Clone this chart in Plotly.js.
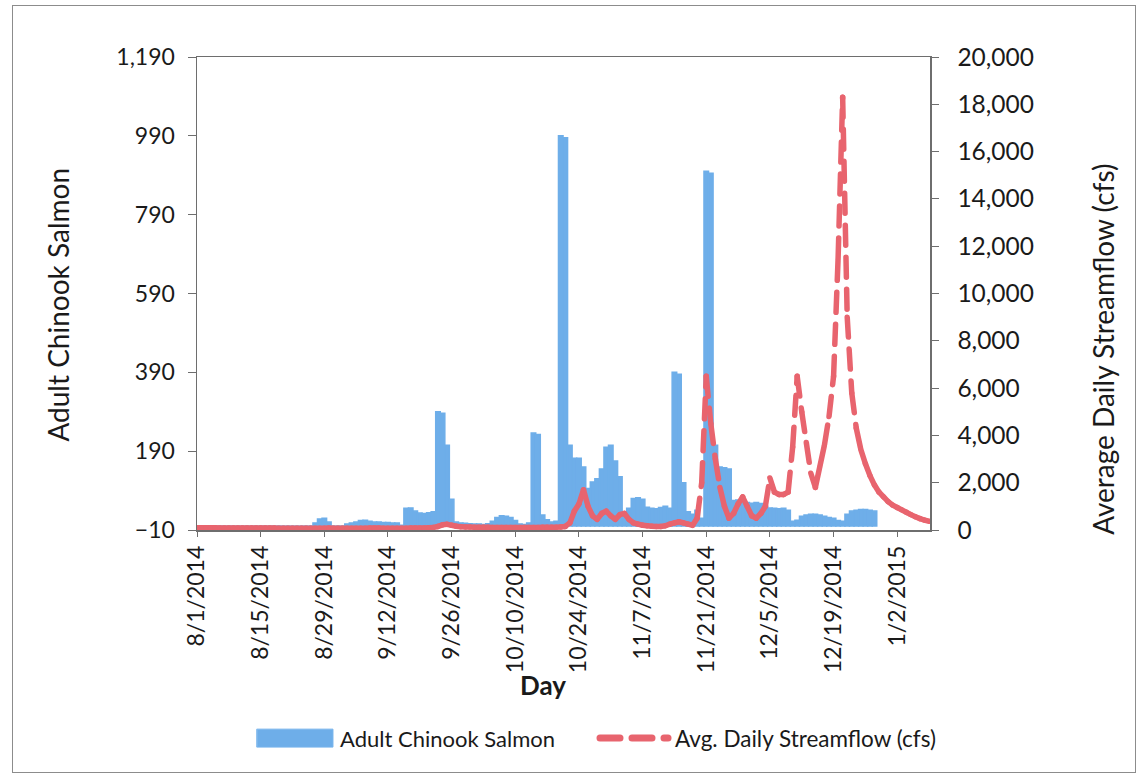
<!DOCTYPE html>
<html>
<head>
<meta charset="utf-8">
<script src="https://cdn.plot.ly/plotly-3.0.1.min.js"></script>
<style>
  html, body { margin: 0; padding: 0; background: #fff; }
  #frame { position: absolute; left: 12px; top: 5px; width: 1122px; height: 766px; border: 1px solid #8c8c8c; }
  #chart { width: 1122px; height: 766px; }
  /* round line ends, like the dashes of the streamflow series */
  #chart .js-line, #chart .shapelayer path { stroke-linecap: round; }
</style>
</head>
<body>
<div id="frame"><div id="chart"></div></div>
<script>
// First day of the record; one value per day after it.
const firstDay = '2014-08-01';

// Daily count of adult Chinook salmon (left axis), 8/1/2014 - 12/28/2014.
const salmon = [
  0, 0, 0, 0, 0, 0, 0, 0, 0, 0, 0, 0, 0, 0, 0, 0, 0, 0, 0, 0, 0, 0, 0, 0, 0, 0,
  8, 18, 20, 10, 0, 0, 0, 5,
  8, 10, 14, 15, 12, 10, 10, 9, 9, 8, 8, 2,
  45, 46, 38, 33, 32, 34, 36, 290, 286, 205, 68,
  10, 8, 7, 6, 5, 5, 4, 6, 12, 22, 26, 25, 22, 14, 5, 4, 8,
  236, 232, 28, 16, 10, 12,
  990, 985, 205, 172, 172, 150, 95, 112, 120, 145, 200, 205, 165, 125, 30, 45,
  70, 72, 68, 48, 45, 44, 47, 50, 45, 390, 385, 110, 36, 30, 40, 20,
  900, 895, 205, 150, 148, 145,
  65, 66, 62, 60, 58, 60, 57, 50, 46, 45, 44, 45, 40, 12, 15,
  25, 28, 30, 30, 28, 25, 22, 20, 14, 12,
  30, 38, 40, 42, 42, 40, 38
];

// Average daily streamflow in cfs (right axis), 8/1/2014 - 1/9/2015.
const streamflow = [
  95, 93, 92, 90, 90, 88, 88, 86, 85, 85, 84, 83, 82, 82, 81, 80, 80, 80, 79, 78, 78, 77, 77, 76, 76, 75,
  76, 76, 78, 80, 78, 77, 76, 76, 75, 75, 76, 78, 80, 82, 80, 78, 77, 76, 76, 75, 78, 80, 82, 85, 88, 95, 110,
  150, 220, 240, 200, 160, 140, 130, 125,
  120, 118, 115, 112, 110, 110, 108, 106, 105, 105, 104, 104, 103, 105, 110, 112, 115, 118, 120,
  130, 150, 300, 800, 1100, 1700, 1000, 600, 450, 700, 800, 600, 450, 650, 700, 450,
  300, 250, 200, 180, 160, 150, 150, 180, 250, 300, 350, 300, 250, 200, 500, 2000, 6500,
  4500, 3000, 1800, 1000, 500, 700, 1100, 1400, 1000, 600, 500, 700, 1000, 2200, 1600, 1500, 1500, 1600,
  3500, 6500, 5000, 3700, 2400, 1800, 2700, 3600, 4800, 6500, 11500, 18300, 9000, 5800, 4300, 3400,
  2800, 2300, 1900, 1600, 1400, 1200, 1050, 950, 850, 750, 650, 560, 480, 420, 370
];

// Series names shown in the legend
const salmonName = 'Adult Chinook Salmon';
const flowName = 'Avg. Daily Streamflow (cfs)';

// Axis settings
const salmonTicks = { min: -10, max: 1190, step: 200 };
const flowTicks = { min: 0, max: 20000, step: 2000 };
const dateTickDays = 14;
const lastAxisDay = '2015-01-09 05:00';

const DAY_MS = 86400000;
const t0 = Date.parse(firstDay + 'T00:00:00Z');
function dayLabel(i) {
  return new Date(t0 + i * DAY_MS).toISOString().slice(0, 10);
}
const salmonDays = salmon.map((_, i) => dayLabel(i));
const flowDays = streamflow.map((_, i) => dayLabel(i));

// The streamflow line is drawn one day-to-day segment at a time so the dash
// pattern restarts on each segment.
const segX = [], segY = [];
for (let i = 0; i < streamflow.length - 1; i++) {
  segX.push(flowDays[i], flowDays[i + 1], null);
  segY.push(streamflow[i], streamflow[i + 1], null);
}

const FONT = 'Lato, "Open Sans", sans-serif';
const INK = '#1a1a1a';
const AXIS = '#6e6e6e';
const BAR_BLUE = 'rgb(110,174,233)';
const FLOW_RED = 'rgb(232,100,110)';
const FLOW_DASH = '20px,12px';

const traces = [
  {
    type: 'bar',
    name: salmonName,
    x: salmonDays,
    y: salmon,
    yaxis: 'y',
    marker: { color: BAR_BLUE, line: { color: BAR_BLUE, width: 1.5 } },
    hoverinfo: 'x+y'
  },
  {
    type: 'scatter',
    mode: 'lines',
    name: flowName,
    x: segX,
    y: segY,
    yaxis: 'y2',
    connectgaps: false,
    line: { color: FLOW_RED, width: 5.5, dash: FLOW_DASH },
    hoverinfo: 'x+y'
  }
];

// Legend row under the chart (paper coordinates)
const legendY = -0.44;
const legendShapes = [
  {
    type: 'rect', xref: 'paper', yref: 'paper',
    x0: 0.082, x1: 0.1855, y0: legendY - 0.019, y1: legendY + 0.019,
    fillcolor: BAR_BLUE, line: { color: 'rgb(120,180,236)', width: 1 }
  },
  {
    type: 'line', xref: 'paper', yref: 'paper',
    x0: 0.5498, x1: 0.6426, y0: legendY, y1: legendY,
    line: { color: FLOW_RED, width: 7, dash: FLOW_DASH }
  }
];
const legendLabels = [
  {
    text: salmonName, xref: 'paper', yref: 'paper',
    x: 0.1924, y: legendY, xanchor: 'left', yanchor: 'middle', showarrow: false,
    font: { family: FONT, size: 22, color: INK }
  },
  {
    text: flowName, xref: 'paper', yref: 'paper',
    x: 0.6494, y: legendY, xanchor: 'left', yanchor: 'middle', showarrow: false,
    font: { family: FONT, size: 22.5, color: INK }
  }
];

const layout = {
  width: 1122,
  height: 766,
  margin: { l: 184, r: 205, t: 51, b: 242 },
  paper_bgcolor: '#fff',
  plot_bgcolor: '#fff',
  font: { family: FONT, color: INK, size: 22 },
  bargap: 0,
  showlegend: false,
  xaxis: {
    type: 'date',
    range: [dayLabel(0), lastAxisDay],
    tick0: firstDay,
    dtick: dateTickDays * DAY_MS,
    tickformat: '%-m/%-d/%Y',
    tickangle: -90,
    ticks: 'outside', ticklen: 5, tickcolor: AXIS,
    tickfont: { family: FONT, size: 23, color: INK },
    showline: true, linecolor: AXIS, linewidth: 1.5, mirror: true,
    showgrid: false, zeroline: false,
    layer: 'below traces'
  },
  yaxis: {
    range: [salmonTicks.min, salmonTicks.max],
    tick0: salmonTicks.min, dtick: salmonTicks.step,
    tickformat: ',d',
    ticks: 'outside', ticklen: 8, tickcolor: AXIS,
    ticklabelstandoff: 8,
    tickfont: { family: FONT, size: 23, color: INK },
    showline: true, linecolor: AXIS, linewidth: 1.5,
    showgrid: false, zeroline: false,
    layer: 'below traces'
  },
  yaxis2: {
    overlaying: 'y', side: 'right',
    range: [flowTicks.min, flowTicks.max],
    tick0: flowTicks.min, dtick: flowTicks.step,
    tickformat: ',d',
    ticks: 'outside', ticklen: 7, tickcolor: AXIS,
    ticklabelstandoff: 14,
    tickfont: { family: FONT, size: 24.5, color: INK },
    showline: true, linecolor: AXIS, linewidth: 1.5,
    showgrid: false, zeroline: false
  },
  shapes: legendShapes,
  annotations: [
    {
      text: 'Adult Chinook Salmon', xref: 'paper', yref: 'paper',
      x: -0.19, y: 0.476, xanchor: 'center', yanchor: 'middle',
      textangle: -90, showarrow: false,
      font: { family: FONT, size: 28, color: INK }
    },
    {
      text: 'Average Daily Streamflow (cfs)', xref: 'paper', yref: 'paper',
      x: 1.236, y: 0.383, xanchor: 'center', yanchor: 'middle',
      textangle: -90, showarrow: false,
      font: { family: FONT, size: 28, color: INK }
    },
    {
      text: '<b>Day</b>', xref: 'paper', yref: 'paper',
      x: 0.472, y: -0.328, xanchor: 'center', yanchor: 'middle', showarrow: false,
      font: { family: FONT, size: 26, color: INK }
    }
  ].concat(legendLabels)
};

Plotly.newPlot('chart', traces, layout, { displayModeBar: false, staticPlot: true });
</script>
</body>
</html>
